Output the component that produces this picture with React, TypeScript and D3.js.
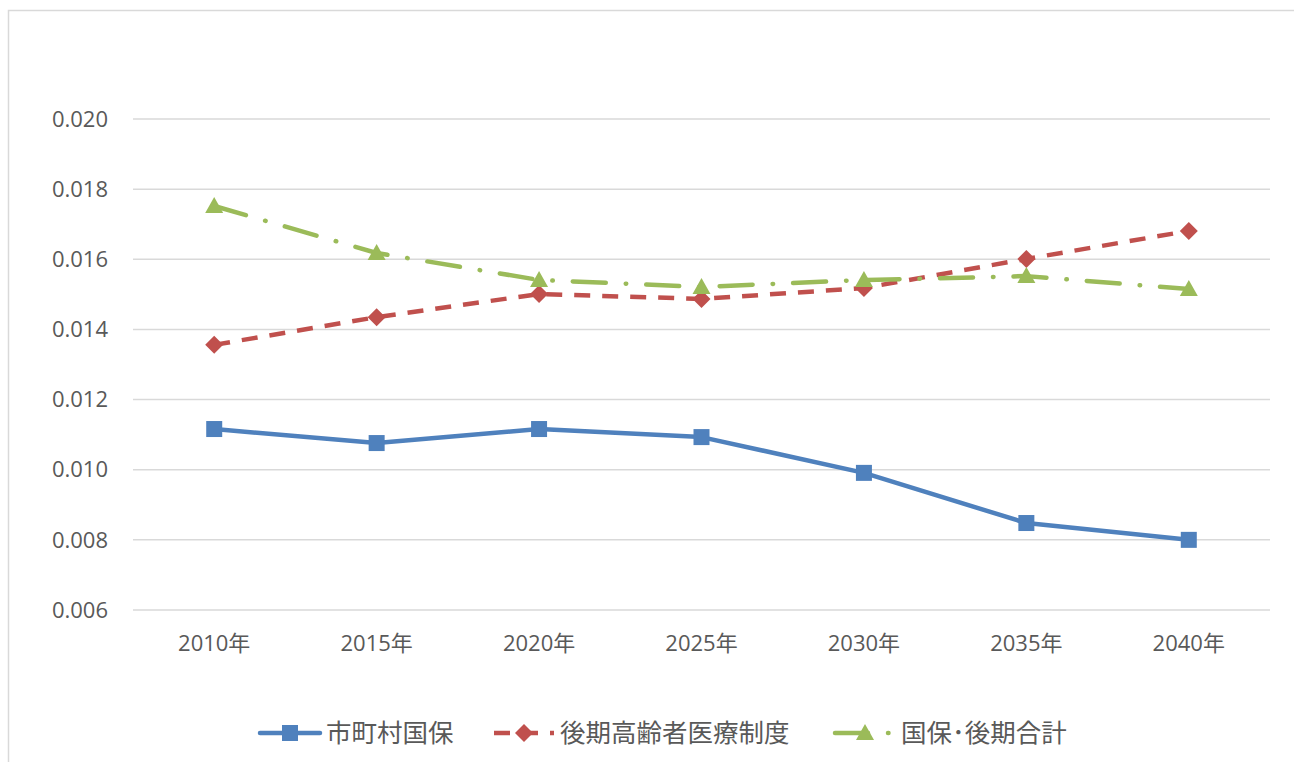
import React from 'react'
import * as d3 from 'd3'

const YEARS = ['2010年', '2015年', '2020年', '2025年', '2030年', '2035年', '2040年']
const KOKUHO = [0.01116, 0.01076, 0.01116, 0.01093, 0.00991, 0.00848, 0.0080]
const KOUKI = [0.01356, 0.01435, 0.01501, 0.01487, 0.01518, 0.01601, 0.01681]
const GOUKEI = [0.01752, 0.01618, 0.01541, 0.01521, 0.01541, 0.01552, 0.01515]
const Y_TICKS = [0.006, 0.008, 0.010, 0.012, 0.014, 0.016, 0.018, 0.020]

const SERIES = [
  { name: '市町村国保', values: KOKUHO, color: '#4F81BD', dash: null, cap: 'round', marker: 'square' },
  { name: '後期高齢者医療制度', values: KOUKI, color: '#C0504D', dash: '16,12', cap: 'butt', marker: 'diamond' },
  { name: '国保･後期合計', values: GOUKEI, color: '#9BBB59', dash: '33,20,0.5,20', cap: 'round', marker: 'triangle' },
]

const W = 1294
const H = 762
const AXIS_FONT = '"Open Sans", "Noto Sans CJK JP", sans-serif'
const LEGEND_FONT = '"Noto Sans CJK JP", sans-serif'

function Marker({ type, x, y, color }: { type: string; x: number; y: number; color: string }) {
  if (type === 'square') return <rect x={x - 8} y={y - 8} width={16} height={16} fill={color} />
  if (type === 'diamond') {
    return <path d={`M${x},${y - 9}L${x + 9},${y}L${x},${y + 9}L${x - 9},${y}Z`} fill={color} />
  }
  return <path d={`M${x},${y - 9}L${x + 9},${y + 7}L${x - 9},${y + 7}Z`} fill={color} />
}

export default function App() {
  const x = d3.scaleBand().domain(YEARS).range([133, 1270])
  const y = d3.scaleLinear().domain([0.006, 0.020]).range([610, 119])
  const cx = (d: string) => (x(d) as number) + x.bandwidth() / 2

  const line = d3.line<number>()
    .x((_, i) => cx(YEARS[i]))
    .y(d => y(d))

  const legendItems = [
    { s: SERIES[0], x0: 260 },
    { s: SERIES[1], x0: 494 },
    { s: SERIES[2], x0: 835 },
  ]

  return (
    <svg width={W} height={H} style={{ position: 'absolute', left: 0, top: 0, background: '#fff' }}>
      <rect x={8.5} y={10.5} width={1400} height={900} fill="#fff" stroke="#d9d9d9" strokeWidth={1.5} />

      {/* grid */}
      {Y_TICKS.map(t => (
        <g key={t}>
          <line x1={133} x2={1270} y1={y(t)} y2={y(t)} stroke="#d9d9d9" strokeWidth={1.5} />
          <text x={108} y={y(t)} dy="0.35em" textAnchor="end" fontSize={22} fill="#595959" fontFamily={AXIS_FONT}>
            {t.toFixed(3)}
          </text>
        </g>
      ))}

      {YEARS.map(yr => (
        <text key={yr} x={cx(yr)} y={643} dy="0.35em" textAnchor="middle" fontSize={22} fill="#595959" fontFamily={AXIS_FONT}>
          {yr}
        </text>
      ))}

      {/* series */}
      {SERIES.map(s => (
        <g key={s.name}>
          <path d={line(s.values) as string} fill="none" stroke={s.color} strokeWidth={4.5}
            strokeDasharray={s.dash ?? undefined} strokeLinecap={s.cap as any} strokeLinejoin="round" />
          {s.values.map((v, i) => (
            <Marker key={i} type={s.marker} x={cx(YEARS[i])} y={y(v)} color={s.color} />
          ))}
        </g>
      ))}

      {/* legend */}
      {legendItems.map(({ s, x0 }) => (
        <g key={s.name}>
          <line x1={x0} x2={x0 + 60} y1={733} y2={733} stroke={s.color} strokeWidth={4.5}
            strokeDasharray={s.dash ?? undefined} strokeLinecap={s.cap as any} />
          <Marker type={s.marker} x={x0 + 30} y={733} color={s.color} />
          <text x={x0 + 66} y={733} dy="0.35em" fontSize={25.5} fill="#595959" fontFamily={LEGEND_FONT}>
            {s.name}
          </text>
        </g>
      ))}
    </svg>
  )
}
